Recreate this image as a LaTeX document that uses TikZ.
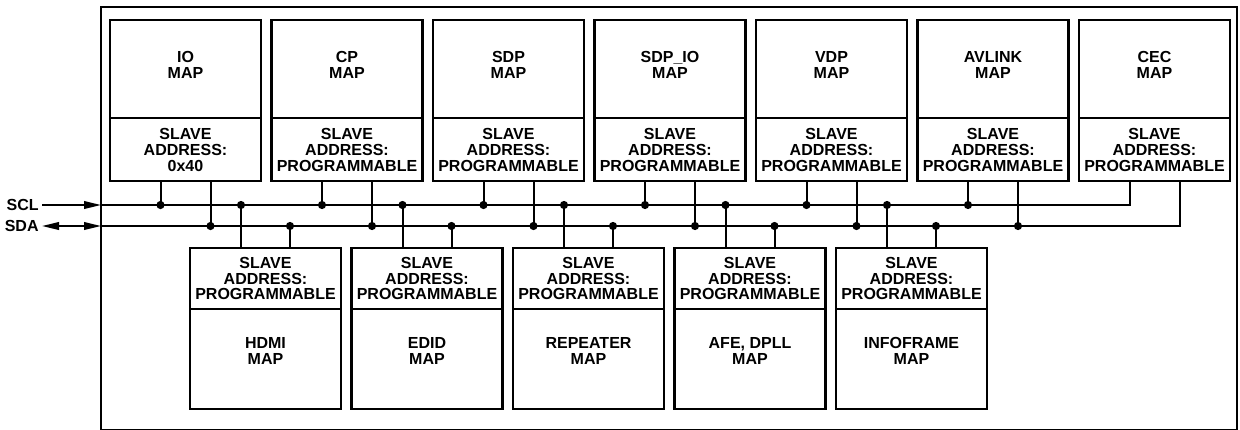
\documentclass[tikz,border=0pt]{standalone}
\usepackage{fontspec}
\setmainfont{Liberation Sans}
\usetikzlibrary{arrows.meta}

\newcommand{\MapTop}[4]{
	\begin{scope}[shift={(#4,20)}]
		\draw[box] (0,0) rectangle (151,161);
		\draw[box] (0,98) -- (151,98);
		\node[maptext] (#1-name) at (75.5,45) {#2\\MAP};
		\node[maptext] (#1-addr) at (75.5,130) {SLAVE\\ADDRESS:\\#3};
		\coordinate (#1-scl) at (50.5,161);
		\coordinate (#1-sda) at (100.5,161);
	\end{scope}
}
\newcommand{\MapBottom}[3]{
	\begin{scope}[shift={(#3,248)}]
		\draw[box] (0,0) rectangle (151,161);
		\draw[box] (0,61) -- (151,61);
		\node[maptext] (#1-addr) at (75.5,30.5) {SLAVE\\ADDRESS:\\PROGRAMMABLE};
		\node[maptext] (#1-name) at (75.5,103) {#2\\MAP};
		\coordinate (#1-scl) at (51,0);
		\coordinate (#1-sda) at (100,0);
	\end{scope}
}
\newcommand{\Taps}[1]{
	\draw[wire] (#1-scl) -- (#1-scl |- scl-in) node[dot] {};
	\draw[wire] (#1-sda) -- (#1-sda |- sda-in) node[dot] {};
}

\begin{document}
\begin{tikzpicture}[x=0.5pt, y=-0.5pt,
	>={Triangle[length=8.5pt, width=3.8pt]},
	box/.style={line width=1.1pt},
	frame/.style={line width=1.35pt},
	wire/.style={line width=1pt},
	dot/.style={circle, fill, inner sep=0pt, minimum size=4.1pt},
	maptext/.style={align=center, inner sep=0pt, font=\fontsize{8}{7.9}\selectfont\bfseries},
	buslabel/.style={inner sep=1.5pt, font=\fontsize{8}{8}\selectfont\bfseries}]
	\useasboundingbox (0,0) rectangle (1240,429);

	\draw[frame] (101,7) rectangle (1237,430);

	\MapTop{io}{IO}{0x40}{110}
	\MapTop{cp}{CP}{PROGRAMMABLE}{271.5}
	\MapTop{sdp}{SDP}{PROGRAMMABLE}{433}
	\MapTop{sdpio}{SDP\_IO}{PROGRAMMABLE}{594.5}
	\MapTop{vdp}{VDP}{PROGRAMMABLE}{756}
	\MapTop{avlink}{AVLINK}{PROGRAMMABLE}{917.5}
	\MapTop{cec}{CEC}{PROGRAMMABLE}{1079}

	\MapBottom{hdmi}{HDMI}{190}
	\MapBottom{edid}{EDID}{351.5}
	\MapBottom{rep}{REPEATER}{513}
	\MapBottom{afe}{AFE, DPLL}{674.5}
	\MapBottom{info}{INFOFRAME}{836}

	% bus
	\coordinate (scl-in) at (101,205);
	\coordinate (sda-in) at (101,226);
	\node[buslabel, anchor=east] (scl) at (42,205) {SCL};
	\node[buslabel, anchor=east] (sda) at (42,226) {SDA};
	\draw[wire, ->] (scl) -- (scl-in);
	\draw[wire, <->] (sda) -- (sda-in);
	\draw[wire] (scl-in) -| (cec-scl);
	\draw[wire] (sda-in) -| (cec-sda);

	\Taps{io}
	\Taps{cp}
	\Taps{sdp}
	\Taps{sdpio}
	\Taps{vdp}
	\Taps{avlink}
	\Taps{hdmi}
	\Taps{edid}
	\Taps{rep}
	\Taps{afe}
	\Taps{info}
\end{tikzpicture}
\end{document}
